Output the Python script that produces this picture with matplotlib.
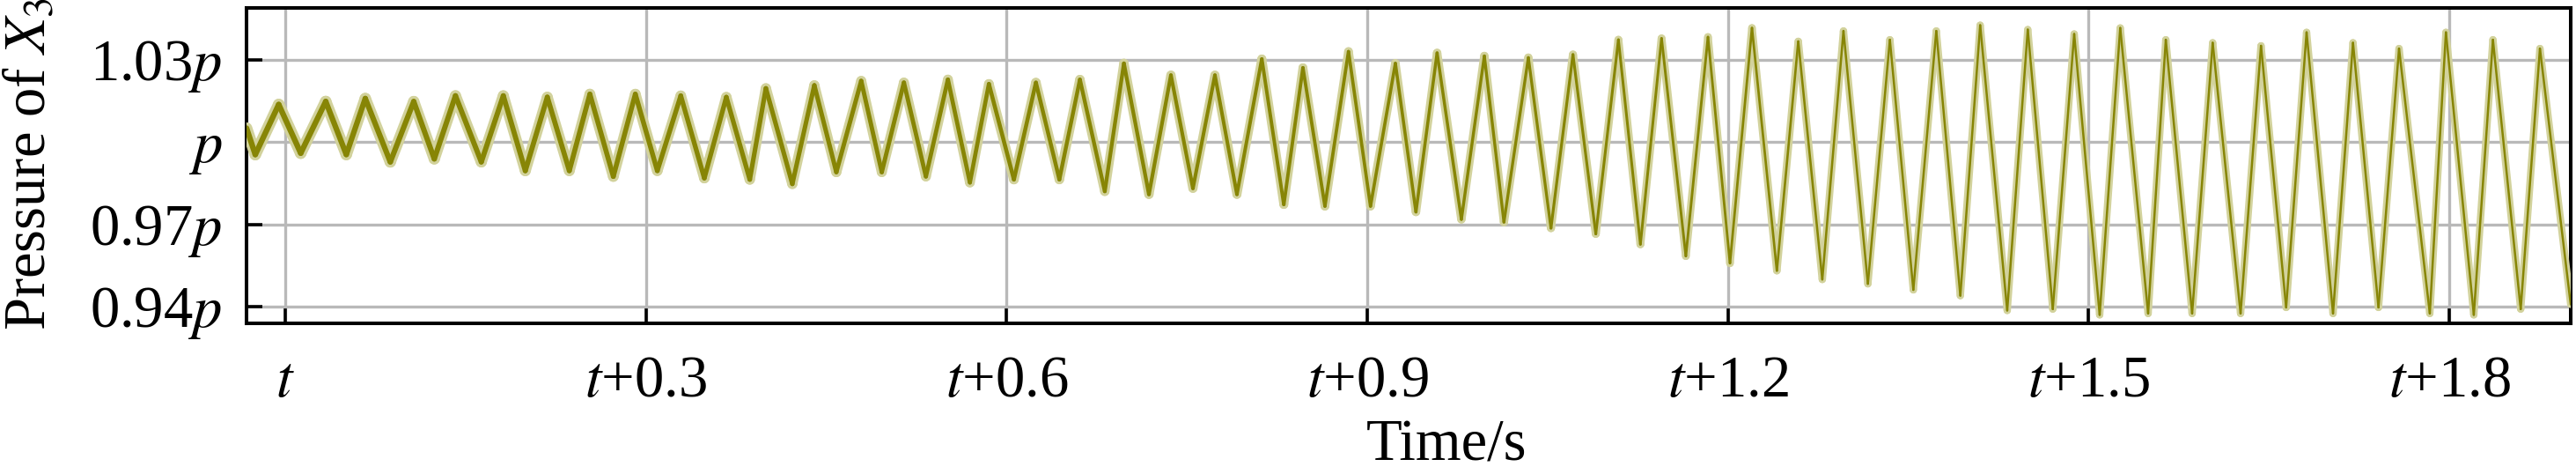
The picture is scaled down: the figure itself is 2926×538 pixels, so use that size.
import matplotlib
matplotlib.use("Agg")
import matplotlib.pyplot as plt
import numpy as np
from matplotlib.ticker import FixedLocator, FixedFormatter
from matplotlib.collections import LineCollection

# ---- data (time offset from t in s, pressure relative to p) ----
times = [-0.0322, -0.0249, -0.0054, 0.0129, 0.0337, 0.0508, 0.0666, 0.0874, 0.1069, 0.1240,
         0.1416, 0.1631, 0.1814, 0.1997, 0.2180, 0.2363, 0.2534, 0.2729, 0.2912, 0.3095,
         0.3290, 0.3486, 0.3669, 0.3864, 0.3998, 0.4218, 0.4401, 0.4584, 0.4791, 0.4962,
         0.5146, 0.5329, 0.5512, 0.5695, 0.5853, 0.6061, 0.6244, 0.6439, 0.6610, 0.6817,
         0.6976, 0.7184, 0.7367, 0.7550, 0.7733, 0.7916, 0.8123, 0.8306, 0.8465, 0.8648,
         0.8844, 0.9027, 0.9234, 0.9405, 0.9581, 0.9783, 0.9974, 1.0137, 1.0340, 1.0528,
         1.0711, 1.0901, 1.1089, 1.1272, 1.1448, 1.1650, 1.1834, 1.2017, 1.2200, 1.2407,
         1.2585, 1.2785, 1.2961, 1.3164, 1.3347, 1.3542, 1.3733, 1.3933, 1.4098, 1.4323,
         1.4494, 1.4702, 1.4880, 1.5092, 1.5263, 1.5495, 1.5642, 1.5861, 1.6032, 1.6264,
         1.6434, 1.6643, 1.6813, 1.7033, 1.7199, 1.7411, 1.7582, 1.7838, 1.7972, 1.8204,
         1.8363, 1.8594, 1.8754, 1.9010]
pressure = [1.0050, 0.9954, 1.0136, 0.9959, 1.0147, 0.9954, 1.0158, 0.9927, 1.0147, 0.9938,
            1.0168, 0.9927, 1.0168, 0.9895, 1.0163, 0.9895, 1.0174, 0.9874, 1.0174, 0.9895,
            1.0168, 0.9868, 1.0163, 0.9863, 1.0195, 0.9847, 1.0206, 0.9890, 1.0222, 0.9890,
            1.0216, 0.9874, 1.0227, 0.9852, 1.0211, 0.9863, 1.0216, 0.9863, 1.0227, 0.9820,
            1.0286, 0.9809, 1.0243, 0.9831, 1.0243, 0.9809, 1.0302, 0.9772, 1.0270, 0.9766,
            1.0329, 0.9766, 1.0286, 0.9745, 1.0324, 0.9718, 1.0313, 0.9708, 1.0307, 0.9686,
            1.0318, 0.9665, 1.0372, 0.9627, 1.0377, 0.9584, 1.0382, 0.9558, 1.0415, 0.9531,
            1.0366, 0.9499, 1.0404, 0.9483, 1.0372, 0.9461, 1.0404, 0.9440, 1.0425, 0.9386,
            1.0409, 0.9391, 1.0393, 0.9370, 1.0415, 0.9375, 1.0372, 0.9375, 1.0361, 0.9375,
            1.0350, 0.9397, 1.0399, 0.9375, 1.0361, 0.9397, 1.0340, 0.9375, 1.0399, 0.9370,
            1.0372, 0.9391, 1.0340, 0.9408]

xticks = [0.0, 0.3, 0.6, 0.9, 1.2, 1.5, 1.8]
xticklabels = ['$t$', '$t$+0.3', '$t$+0.6', '$t$+0.9', '$t$+1.2', '$t$+1.5', '$t$+1.8']
yticks = [0.94, 0.97, 1.00, 1.03]
yticklabels = ['0.94$p$', '0.97$p$', '$p$', '1.03$p$']

plt.rcParams['font.family'] = ['Liberation Serif', 'DejaVu Serif']
plt.rcParams['mathtext.fontset'] = 'stix'

W, H = 2926, 538
fig = plt.figure(figsize=(W / 100, H / 100), dpi=100)
ax = fig.add_axes([280 / W, 1 - 367 / H, (2920 - 280) / W, (367 - 9) / H])

t_arr = np.asarray(times)
p_arr = np.asarray(pressure)
pts = np.column_stack([t_arr, p_arr]).reshape(-1, 1, 2)
segs = np.concatenate([pts[:-1], pts[1:]], axis=1)
mid = 0.5 * (t_arr[:-1] + t_arr[1:])
frac = np.clip(mid / 1.3, 0, 1)   # styling ramp: noisy thick trace -> thin trace

halo = LineCollection(segs, colors='#d2d29c', linewidths=9.5 - 3.5 * frac,
                      capstyle='round', joinstyle='round', zorder=3)
core = LineCollection(segs, colors='#878505', linewidths=4.6 - 2.8 * frac,
                      capstyle='round', joinstyle='round', zorder=4)
ax.add_collection(halo)
ax.add_collection(core)

ax.set_xlim(-0.0322, 1.901)
ax.set_ylim(0.9339, 1.0488)

ax.xaxis.set_major_locator(FixedLocator(xticks))
ax.xaxis.set_major_formatter(FixedFormatter(xticklabels))
ax.yaxis.set_major_locator(FixedLocator(yticks))
ax.yaxis.set_major_formatter(FixedFormatter(yticklabels))

ax.set_axisbelow(True)
ax.grid(True, color='#b9b9b9', lw=2.4)
for s in ax.spines.values():
    s.set_linewidth(2.9)
    s.set_color('black')
ax.tick_params(direction='in', length=13, width=2.6, color='black',
               labelsize=48, top=False, right=False)
ax.tick_params(axis='x', pad=26)
ax.tick_params(axis='y', pad=20)

fig.text(1643 / W, 1 / H, 'Time/s', fontsize=48, ha='center', va='bottom')
fig.text(4 / W, 1 - 186 / H, 'Pressure of $X_3$', fontsize=48, rotation=90,
         ha='left', va='center')

fig.savefig('out.png', dpi=100)
